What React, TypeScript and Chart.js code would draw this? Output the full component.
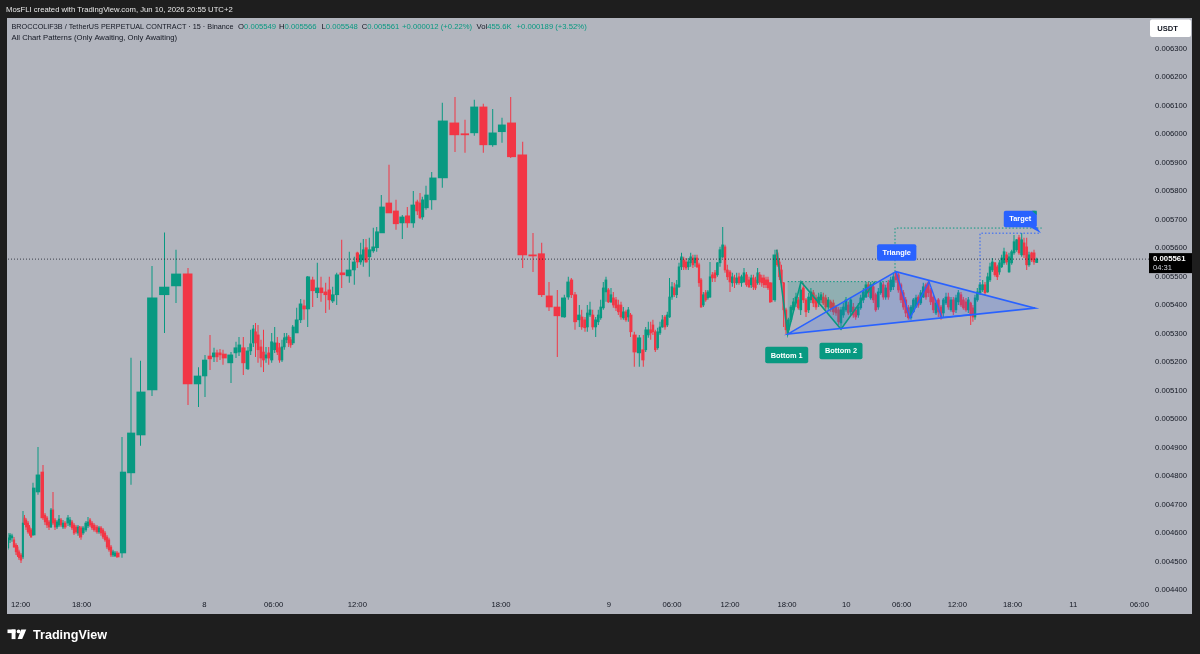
import React, { useEffect, useRef } from "react";
import { Chart, registerables } from "chart.js";

Chart.register(...registerables);

const FONT = "'Liberation Sans', Arial, sans-serif";
const GREEN = "#089981";
const RED = "#f23645";
const BLUE = "#2962ff";
const PANEL = "#b2b5be";
const DARK = "#1e1e1e";
const TEXT = "#131722";

// value range of the price scale
const Y_MIN = 0.0043825;
const Y_MAX = 0.006407;
// bar-slot range of the time scale
const X_MIN = 8;
const X_MAX = 1145;

const priceTicks = [
  0.0044, 0.0045, 0.0046, 0.0047, 0.0048, 0.0049, 0.005, 0.0051, 0.0052, 0.0053,
  0.0054, 0.0055, 0.0056, 0.0057, 0.0058, 0.0059, 0.006, 0.0061, 0.0062, 0.0063,
];
const timeTickSlots = [20.7, 81.7, 204.3, 273.7, 357.3, 501, 609, 672, 730, 787, 846.3, 901.7, 957.3, 1012.7, 1073.3, 1139.3];
const timeTickLabels = ["12:00", "18:00", "8", "06:00", "12:00", "18:00", "9", "06:00", "12:00", "18:00", "10", "06:00", "12:00", "18:00", "11", "06:00"];

const lastPrice = 0.005561;
const countdown = "04:31";

// bar slot (position on the time axis) of each candle
const slots = [
  8, 10, 12, 14, 16, 17.5, 19, 21, 23, 24.5, 26, 28, 29.5, 31, 33, 38, 43, 45, 47, 49, 51, 53, 55, 57, 59, 61, 63, 65, 68, 70,
  72, 74, 76, 78, 79.5, 81, 83, 86, 88, 90, 92, 94, 97, 99, 101, 103, 105, 107, 109, 111, 113, 115, 117,
  122, 131, 140.5, 152, 164.5, 176, 188, 198.5, 205, 210, 214, 217, 220, 223, 231, 236, 239,
  243.3, 248, 250.7, 253.3, 255.5, 258, 261, 263.5, 266, 268.7, 271.7, 274.7, 277.3, 279.5, 282, 284.3, 286.7, 288.7, 290.7, 292.7,
  296.7, 300.7, 304, 307.7, 312.7, 317.3, 321, 325.7, 329.3, 332.7, 336.7, 341.7, 349.3, 354.3, 357.3, 360.7, 363.3, 366, 369.3, 373.3,
  376.7, 381.3, 389, 396, 402.3, 407.3, 413.3, 417.3, 420, 422.3, 426, 431.7, 442.3, 455, 465, 474.3, 483.3, 492.7, 502, 510.7, 522.7, 533,
  541.7, 549, 557.3, 564.3, 568.3, 571.3, 575, 579.3, 581.7, 585, 587.3, 590, 592.7, 595.7, 598.3, 600.7, 603.3, 606, 608.3, 611,
  613.3, 616, 618.3, 621, 623.3, 626, 628.3, 630.5, 634.3, 639.3, 643.3, 645.7, 648.3, 650.7, 652.9, 655.3, 657.7, 660, 662.3, 665,
  667.3, 669.5, 672, 674.3, 676.7, 679, 681.5, 683.7, 686, 688.3, 690.7, 692.9, 695, 697, 699, 701, 703.3, 705.7, 707.9, 710,
  712.3, 715, 717.3, 720, 722.7, 725, 727.3, 730, 732.3, 734.5, 736.7, 739, 741.5, 744, 746.5, 749, 751.2, 753.4, 755.5, 757.6,
  759.7, 761.8, 763.9, 766, 768, 770,
  775, 777.3, 779.4, 781.5, 783.6, 786, 788.3, 791, 793.3, 796, 798.3, 800.7, 803.3, 806, 808.7, 810.9, 813.3, 816, 818.7, 821,
  823.3, 825.7, 828.3, 830.7, 833.3, 836, 838.7, 841, 843.3, 846, 848.3, 850.7, 853.3, 855.7, 858.3, 860.7, 863.3, 866, 868.3, 870.7,
  873.3, 875.7, 878.3, 880.7, 883.3, 885.7, 888.3, 890.7, 893.3, 896, 898.3, 901, 903.3, 905.7, 908.3, 911, 913.3, 916, 918.3, 920.7,
  923.3, 926, 928.3, 930.7, 933.3, 936, 938.3, 941, 943.3, 946, 948.3, 951, 953.3, 956, 958.3, 961, 963.3, 966, 968.3, 970.7,
  972.9, 975, 977.3, 980, 982.7, 985, 987.7, 990, 992.3, 995, 997.3, 999.4, 1001.7, 1004, 1006.7, 1009, 1011.7, 1014, 1016.7, 1019,
  1021.7, 1024, 1026.7, 1029, 1031.7, 1034, 1036.7,
];

// [open, high, low, close]
const ohlc: number[][] = [
  [0.004548, 0.0046, 0.004541, 0.004583], [0.004576, 0.0046, 0.004565, 0.004593], [0.004583, 0.004597, 0.004569, 0.00459],
  [0.004576, 0.004586, 0.004548, 0.004551], [0.004558, 0.004565, 0.004523, 0.004534], [0.004551, 0.004558, 0.004516, 0.004523],
  [0.004534, 0.004541, 0.004505, 0.004513], [0.004523, 0.00453, 0.004495, 0.004505], [0.004516, 0.004677, 0.004509, 0.004635],
  [0.004653, 0.004663, 0.004628, 0.004635], [0.004646, 0.004653, 0.004611, 0.004621], [0.004635, 0.004642, 0.004597, 0.004604],
  [0.004621, 0.004628, 0.00459, 0.0046], [0.004611, 0.004618, 0.004583, 0.004586], [0.004593, 0.004776, 0.00459, 0.004758],
  [0.004744, 0.004902, 0.004734, 0.004804], [0.004814, 0.004839, 0.004646, 0.004653], [0.004663, 0.00467, 0.004628, 0.004639],
  [0.004653, 0.00466, 0.004618, 0.004628], [0.004639, 0.004646, 0.004611, 0.004621], [0.004621, 0.004688, 0.004618, 0.004681],
  [0.004681, 0.004744, 0.004628, 0.004635], [0.004646, 0.004653, 0.004611, 0.004621], [0.004621, 0.004646, 0.004614, 0.004639],
  [0.004628, 0.004663, 0.004621, 0.004649], [0.004646, 0.004653, 0.004621, 0.004628], [0.004621, 0.004646, 0.004614, 0.004635],
  [0.004635, 0.004642, 0.004614, 0.004621], [0.004635, 0.004663, 0.004625, 0.004653], [0.004628, 0.004656, 0.004621, 0.004646],
  [0.004639, 0.004646, 0.004611, 0.004618], [0.004628, 0.004635, 0.004593, 0.0046], [0.004621, 0.004628, 0.004597, 0.004604],
  [0.0046, 0.004628, 0.00459, 0.004621], [0.004618, 0.004625, 0.004583, 0.004593], [0.004618, 0.004625, 0.004576, 0.004586],
  [0.0046, 0.004625, 0.004593, 0.004618], [0.004611, 0.004642, 0.004604, 0.004635], [0.004625, 0.004656, 0.004618, 0.004639],
  [0.004646, 0.004653, 0.004621, 0.004628], [0.004635, 0.004642, 0.004611, 0.004618], [0.004628, 0.004635, 0.004604, 0.004611],
  [0.004621, 0.004628, 0.004597, 0.004604], [0.004604, 0.004625, 0.004597, 0.004618], [0.004618, 0.004625, 0.00459, 0.0046],
  [0.004611, 0.004618, 0.004579, 0.004586], [0.0046, 0.004607, 0.004569, 0.004576], [0.004586, 0.004593, 0.004544, 0.004551],
  [0.004576, 0.004583, 0.004534, 0.004541], [0.004551, 0.004558, 0.004516, 0.004523], [0.004523, 0.004541, 0.004516, 0.004534],
  [0.00452, 0.004537, 0.004516, 0.00453], [0.00453, 0.004537, 0.004513, 0.004516],
  // 7th evening / 8th
  [0.00453, 0.004937, 0.004513, 0.004814], [0.004811, 0.005215, 0.004769, 0.004951], [0.004944, 0.005204, 0.004906, 0.005095],
  [0.005102, 0.005537, 0.005081, 0.005425], [0.005436, 0.005654, 0.005302, 0.005463], [0.005467, 0.005594, 0.005407, 0.005509],
  [0.005509, 0.00553, 0.005049, 0.005123], [0.005123, 0.005182, 0.005042, 0.005151], [0.005151, 0.005225, 0.005077, 0.005207],
  [0.005221, 0.005295, 0.005172, 0.005211], [0.005218, 0.00525, 0.0052, 0.005232], [0.005232, 0.005243, 0.0052, 0.005218],
  [0.005232, 0.005246, 0.005207, 0.005225], [0.005228, 0.005243, 0.00519, 0.005214], [0.005197, 0.005235, 0.005126, 0.005225],
  [0.005232, 0.005271, 0.005214, 0.00525], [0.005235, 0.005288, 0.005221, 0.00526],
  [0.00525, 0.005288, 0.005154, 0.005197], [0.005176, 0.005253, 0.005172, 0.005239], [0.005239, 0.005313, 0.005225, 0.005264],
  [0.005267, 0.00533, 0.005253, 0.005316], [0.005306, 0.005337, 0.005218, 0.005267], [0.005295, 0.00533, 0.005197, 0.005243],
  [0.005253, 0.005278, 0.005182, 0.005214], [0.005235, 0.005313, 0.005165, 0.005207], [0.005214, 0.005253, 0.005197, 0.005225],
  [0.005232, 0.005253, 0.00519, 0.005214], [0.005207, 0.005302, 0.005197, 0.005271], [0.005243, 0.005323, 0.005232, 0.005267],
  [0.005267, 0.005288, 0.005225, 0.005235], [0.00525, 0.005267, 0.005197, 0.005207], [0.005207, 0.005278, 0.0052, 0.005253],
  [0.005253, 0.005302, 0.005243, 0.005285], [0.005278, 0.005302, 0.005267, 0.005288], [0.005288, 0.005295, 0.005253, 0.005267],
  [0.005278, 0.005288, 0.00525, 0.00526], [0.005267, 0.00533, 0.00526, 0.005323], [0.005302, 0.00539, 0.005302, 0.005348],
  [0.005348, 0.005421, 0.005337, 0.005404], [0.005397, 0.005418, 0.005348, 0.005386], [0.005386, 0.005502, 0.005323, 0.005499],
  [0.005488, 0.005499, 0.005393, 0.00545], [0.005443, 0.005548, 0.005425, 0.00546], [0.00546, 0.005499, 0.005411, 0.005443],
  [0.005446, 0.005478, 0.005372, 0.005436], [0.005453, 0.005499, 0.005383, 0.005418], [0.005414, 0.005464, 0.005407, 0.005436],
  [0.005436, 0.005513, 0.0054, 0.005506], [0.005513, 0.005629, 0.00546, 0.005506], [0.005502, 0.005587, 0.005478, 0.005523],
  [0.005523, 0.005569, 0.005471, 0.005551], [0.005583, 0.005587, 0.00553, 0.005551], [0.005551, 0.005618, 0.005541, 0.005576],
  [0.005558, 0.005632, 0.005534, 0.005594], [0.005601, 0.005632, 0.005548, 0.005551], [0.005569, 0.005636, 0.005499, 0.005594],
  [0.00559, 0.005671, 0.005583, 0.005604], [0.005601, 0.005674, 0.005587, 0.005657], [0.005653, 0.005786, 0.005653, 0.005744],
  [0.005758, 0.005892, 0.005723, 0.005723], [0.00573, 0.005769, 0.005664, 0.005685], [0.005688, 0.005716, 0.005632, 0.005709],
  [0.005713, 0.005744, 0.005671, 0.005688], [0.005688, 0.0058, 0.005671, 0.005751], [0.005762, 0.005769, 0.005716, 0.00573],
  [0.005758, 0.005793, 0.005702, 0.005706], [0.005709, 0.00578, 0.005699, 0.005769], [0.005741, 0.005818, 0.005734, 0.005786],
  [0.005769, 0.005867, 0.005734, 0.005846], [0.005846, 0.00611, 0.005811, 0.006046], [0.006039, 0.00613, 0.005937, 0.005997],
  [0.006001, 0.00605, 0.005934, 0.005997], [0.006004, 0.00612, 0.005994, 0.006095], [0.006095, 0.006106, 0.005934, 0.005962],
  [0.005962, 0.006088, 0.005955, 0.006004], [0.006008, 0.006057, 0.005969, 0.006032], [0.006039, 0.00613, 0.005916, 0.00592],
  [0.005927, 0.005973, 0.00553, 0.005576], [0.005576, 0.005653, 0.005516, 0.005572],
  // 9th
  [0.00558, 0.005618, 0.005428, 0.005436], [0.005432, 0.005481, 0.005379, 0.005393], [0.005393, 0.005453, 0.005218, 0.005362],
  [0.005358, 0.005436, 0.005355, 0.005425], [0.005428, 0.005499, 0.005418, 0.005481], [0.005488, 0.005495, 0.005425, 0.005436],
  [0.005436, 0.005446, 0.005313, 0.005341], [0.005348, 0.0054, 0.005323, 0.005365], [0.005358, 0.005383, 0.005313, 0.005323],
  [0.005348, 0.005358, 0.005306, 0.00532], [0.005323, 0.0054, 0.005306, 0.005372], [0.005365, 0.005411, 0.005358, 0.005383],
  [0.005365, 0.005383, 0.005313, 0.005323], [0.005323, 0.005358, 0.005288, 0.005348], [0.005341, 0.005383, 0.00533, 0.005365],
  [0.005355, 0.005418, 0.005348, 0.005393], [0.00539, 0.005481, 0.005383, 0.00546], [0.005446, 0.005499, 0.005411, 0.005488],
  [0.005453, 0.00546, 0.005407, 0.005411], [0.005411, 0.00546, 0.005407, 0.005436], [0.005425, 0.005446, 0.00539, 0.0054],
  [0.005418, 0.005428, 0.005379, 0.00539], [0.0054, 0.005418, 0.005365, 0.005376], [0.0054, 0.005411, 0.005348, 0.005358],
  [0.005355, 0.005393, 0.005348, 0.005376], [0.005376, 0.005383, 0.005341, 0.005348], [0.005358, 0.005393, 0.005341, 0.005383],
  [0.005365, 0.005372, 0.005288, 0.005306], [0.005295, 0.005306, 0.005183, 0.005235], [0.005232, 0.005295, 0.005183, 0.005285],
  [0.005243, 0.005295, 0.005183, 0.005207], [0.005243, 0.005323, 0.005235, 0.005313], [0.005295, 0.005341, 0.005285, 0.005313],
  [0.005313, 0.005341, 0.005278, 0.005302], [0.00533, 0.005348, 0.005295, 0.005306], [0.005306, 0.005313, 0.005235, 0.005243],
  [0.00525, 0.00532, 0.005243, 0.005306], [0.005302, 0.005341, 0.005295, 0.005323], [0.005323, 0.005365, 0.00532, 0.005348],
  [0.005358, 0.005365, 0.005313, 0.005323], [0.00533, 0.005376, 0.005323, 0.005365], [0.005358, 0.005495, 0.005355, 0.005428],
  [0.005428, 0.005481, 0.005418, 0.005464], [0.00546, 0.005478, 0.005428, 0.005436], [0.005436, 0.005488, 0.005425, 0.005471],
  [0.005464, 0.005548, 0.00546, 0.005534], [0.005534, 0.005583, 0.005523, 0.005569], [0.005558, 0.005569, 0.005523, 0.005534],
  [0.005551, 0.005565, 0.005523, 0.00553], [0.005534, 0.005565, 0.005523, 0.005551], [0.005548, 0.005583, 0.005534, 0.005569],
  [0.005565, 0.005576, 0.00553, 0.005541], [0.005548, 0.005576, 0.005534, 0.005565], [0.005565, 0.005576, 0.00553, 0.005534],
  [0.005541, 0.005548, 0.005464, 0.005478], [0.005488, 0.005495, 0.00539, 0.005393], [0.0054, 0.005446, 0.005393, 0.005436],
  [0.005443, 0.005453, 0.005411, 0.005418], [0.005425, 0.005453, 0.005418, 0.005446], [0.005428, 0.005551, 0.005425, 0.005499],
  [0.005506, 0.005516, 0.005481, 0.005495], [0.005513, 0.005523, 0.005481, 0.005495], [0.005506, 0.005551, 0.005499, 0.005548],
  [0.005548, 0.005604, 0.005534, 0.005594], [0.005569, 0.005674, 0.005565, 0.005611], [0.005604, 0.005611, 0.005513, 0.005523],
  [0.005523, 0.005541, 0.005488, 0.005499], [0.005516, 0.005523, 0.005446, 0.005481], [0.005478, 0.005513, 0.005464, 0.005499],
  [0.005495, 0.005506, 0.00546, 0.005478], [0.005478, 0.005513, 0.005471, 0.005495], [0.005499, 0.005513, 0.005471, 0.005478],
  [0.005478, 0.005506, 0.005464, 0.005499], [0.005481, 0.00553, 0.005478, 0.005513], [0.005506, 0.005516, 0.005464, 0.005471],
  [0.005488, 0.005499, 0.00546, 0.005464], [0.005471, 0.005506, 0.00546, 0.005495], [0.005495, 0.005506, 0.005453, 0.005464],
  [0.005488, 0.005499, 0.005453, 0.00546], [0.005478, 0.00553, 0.005471, 0.005513], [0.005506, 0.005516, 0.005471, 0.005481],
  [0.005495, 0.005506, 0.005464, 0.005478], [0.005495, 0.005506, 0.00546, 0.005471], [0.005488, 0.005499, 0.00546, 0.005471],
  [0.005488, 0.005499, 0.005453, 0.00546], [0.005478, 0.005481, 0.005407, 0.005411],
  // 9th evening / 10th
  [0.005418, 0.005594, 0.005411, 0.005576], [0.005583, 0.005594, 0.005534, 0.005541], [0.005551, 0.005565, 0.005488, 0.005499],
  [0.005523, 0.005541, 0.005464, 0.005478], [0.005478, 0.005481, 0.005323, 0.005383], [0.005383, 0.00539, 0.005298, 0.005313],
  [0.005313, 0.005355, 0.005302, 0.005348], [0.005348, 0.0054, 0.005341, 0.005393], [0.005383, 0.005425, 0.005376, 0.005411],
  [0.005407, 0.005443, 0.005393, 0.005428], [0.005418, 0.005428, 0.005383, 0.00539], [0.005383, 0.005481, 0.005365, 0.005453],
  [0.00546, 0.005478, 0.005407, 0.005418], [0.005418, 0.005425, 0.005358, 0.005376], [0.005383, 0.005443, 0.005372, 0.005428],
  [0.005418, 0.00546, 0.005407, 0.005446], [0.005443, 0.005453, 0.005393, 0.005407], [0.005425, 0.005436, 0.005383, 0.005393],
  [0.005407, 0.005443, 0.005393, 0.005428], [0.005418, 0.005446, 0.005407, 0.005436], [0.005428, 0.005443, 0.0054, 0.005407],
  [0.005425, 0.005436, 0.005383, 0.005393], [0.005393, 0.005428, 0.005383, 0.005418], [0.005411, 0.005418, 0.005376, 0.00539],
  [0.005407, 0.005418, 0.005365, 0.005376], [0.005393, 0.0054, 0.005362, 0.005372], [0.005383, 0.005393, 0.00533, 0.005341],
  [0.005337, 0.005393, 0.005315, 0.005383], [0.005365, 0.005407, 0.005355, 0.005393], [0.005383, 0.005428, 0.005376, 0.005418],
  [0.0054, 0.005411, 0.005365, 0.005372], [0.005376, 0.005428, 0.005365, 0.005418], [0.005393, 0.005407, 0.005355, 0.005365],
  [0.005383, 0.005393, 0.005348, 0.005358], [0.005365, 0.005407, 0.005355, 0.005393], [0.00539, 0.005436, 0.005383, 0.005425],
  [0.005418, 0.00546, 0.005407, 0.005446], [0.005428, 0.005481, 0.005425, 0.005471], [0.005471, 0.005481, 0.005428, 0.005443],
  [0.005425, 0.005481, 0.005418, 0.005471], [0.005464, 0.005478, 0.005407, 0.005418], [0.005436, 0.005443, 0.005376, 0.005383],
  [0.005393, 0.00546, 0.005383, 0.005446], [0.005443, 0.005488, 0.005436, 0.005478], [0.005471, 0.005481, 0.005418, 0.005428],
  [0.005428, 0.005471, 0.005418, 0.00546], [0.005478, 0.005488, 0.005418, 0.005428], [0.005453, 0.005499, 0.005446, 0.005488],
  [0.005464, 0.005513, 0.005453, 0.005499], [0.005513, 0.005516, 0.005478, 0.005488], [0.005506, 0.005513, 0.005443, 0.005453],
  [0.005471, 0.005478, 0.005407, 0.005418], [0.005443, 0.005453, 0.005383, 0.005393], [0.005418, 0.005428, 0.005358, 0.005372],
  [0.00539, 0.0054, 0.005348, 0.005355], [0.005355, 0.0054, 0.005348, 0.005393], [0.005376, 0.005425, 0.005372, 0.005418],
  [0.005393, 0.005436, 0.00539, 0.005425], [0.005428, 0.005436, 0.00539, 0.0054], [0.005407, 0.005453, 0.0054, 0.005443],
  [0.005428, 0.005478, 0.005425, 0.005464], [0.005471, 0.005478, 0.005418, 0.005428], [0.005478, 0.005488, 0.005428, 0.005443],
  [0.005453, 0.00546, 0.0054, 0.005411], [0.005428, 0.005436, 0.005372, 0.005383], [0.005372, 0.005418, 0.005365, 0.005407],
  [0.005418, 0.005425, 0.005358, 0.005376], [0.005393, 0.0054, 0.005348, 0.005358], [0.005372, 0.005425, 0.005358, 0.005418],
  [0.005407, 0.005443, 0.0054, 0.005428], [0.005428, 0.005443, 0.005383, 0.005393], [0.005383, 0.005428, 0.005376, 0.005418],
  [0.005418, 0.005428, 0.005365, 0.005376], [0.005383, 0.005436, 0.005372, 0.005425], [0.005411, 0.005453, 0.0054, 0.005443],
  [0.005436, 0.005446, 0.005393, 0.0054], [0.005418, 0.005428, 0.005383, 0.00539], [0.005411, 0.005425, 0.005376, 0.005383],
  [0.005383, 0.005428, 0.005372, 0.005418], [0.005407, 0.005411, 0.00533, 0.005365], [0.00539, 0.0054, 0.005341, 0.005358],
  [0.005358, 0.005436, 0.005348, 0.005425], [0.005418, 0.00546, 0.005411, 0.005446], [0.005443, 0.005481, 0.005436, 0.005471],
  [0.005453, 0.005488, 0.005446, 0.005471], [0.005471, 0.005481, 0.005436, 0.005443], [0.005446, 0.005513, 0.005443, 0.005499],
  [0.005488, 0.005548, 0.005481, 0.005534], [0.005523, 0.005565, 0.005516, 0.005551], [0.005548, 0.005551, 0.005499, 0.005506],
  [0.005534, 0.005541, 0.005488, 0.005499], [0.005516, 0.005558, 0.005506, 0.005548], [0.005534, 0.005576, 0.00553, 0.005565],
  [0.005548, 0.005601, 0.005541, 0.005587], [0.005576, 0.005587, 0.005541, 0.005551], [0.005516, 0.005583, 0.005513, 0.005569],
  [0.005548, 0.005594, 0.005541, 0.005587], [0.005583, 0.005646, 0.005576, 0.005622], [0.005594, 0.005632, 0.005587, 0.005629],
  [0.005636, 0.005646, 0.005576, 0.005583], [0.005576, 0.005653, 0.005569, 0.005629], [0.005618, 0.005636, 0.005565, 0.005576],
  [0.005604, 0.005636, 0.005523, 0.005541], [0.005541, 0.005587, 0.005534, 0.005576], [0.005583, 0.005587, 0.005551, 0.005558],
  [0.005583, 0.005594, 0.005541, 0.005551], [0.005549, 0.005566, 0.005548, 0.005561],
];

// chart pattern drawings: [slot, price]
const doubleBottomPath = [[776.7, 0.005594], [787.7, 0.005298], [801, 0.005482], [841, 0.005315], [875, 0.005482]];
const necklinePrice = 0.005482;
const necklineSlots = [787.7, 895];
const trianglePts = [[787.7, 0.005298], [896, 0.005517], [1035, 0.005389]];
const triangleWaves = [[896, 0.005517], [910, 0.005354], [929, 0.005482], [941.7, 0.005356], [973.3, 0.005367]];
const heightProjection = [[895, 0.005517], [895, 0.00567], [1041.7, 0.00567]];
const targetProjection = [[980, 0.005436], [980, 0.005652], [1040, 0.005652]];

const headerSymbol = "BROCCOLIF3B / TetherUS PERPETUAL CONTRACT · 15 · Binance";
const headerStudies = "All Chart Patterns (Only Awaiting, Only Awaiting)";
const headerValues = [
  ["O", "0.005549", 238], ["H", "0.005566", 279], ["L", "0.005548", 321.5], ["C", "0.005561", 361.7],
  ["", "+0.000012 (+0.22%)", 402], ["Vol", "455.6K", 476.5], ["", "+0.000189 (+3.52%)", 516.6],
];

function tag(ctx: CanvasRenderingContext2D, text: string, cx: number, cy: number, bg: string) {
  ctx.font = `bold 7.4px ${FONT}`;
  const w = ctx.measureText(text).width + 11;
  const h = 16.5;
  ctx.fillStyle = bg;
  ctx.beginPath();
  if ((ctx as any).roundRect) (ctx as any).roundRect(cx - w / 2, cy - h / 2, w, h, 2);
  else ctx.rect(cx - w / 2, cy - h / 2, w, h);
  ctx.fill();
  ctx.fillStyle = "#ffffff";
  ctx.textAlign = "center";
  ctx.textBaseline = "middle";
  ctx.fillText(text, cx, cy + 0.5);
}

const overlayPlugin = {
  id: "tvOverlay",
  beforeDraw(chart: any) {
    const { ctx, width, height } = chart;
    ctx.save();
    ctx.fillStyle = DARK;
    ctx.fillRect(0, 0, width, height);
    ctx.fillStyle = PANEL;
    ctx.fillRect(7, 18, 1185, 596);
    ctx.textBaseline = "middle";
    ctx.textAlign = "left";
    ctx.font = `7.7px ${FONT}`;
    ctx.fillStyle = "#e8e8e8";
    ctx.fillText("MosFLI created with TradingView.com, Jun 10, 2026 20:55 UTC+2", 6, 10, 228);
    ctx.fillStyle = TEXT;
    ctx.fillText(headerSymbol, 11.5, 27, 222);
    for (const [k, v, x] of headerValues as any[]) {
      ctx.fillStyle = TEXT;
      ctx.fillText(k, x, 27);
      const kw = ctx.measureText(k).width;
      ctx.fillStyle = GREEN;
      ctx.fillText(v, x + kw, 27);
    }
    ctx.fillStyle = TEXT;
    ctx.fillText(headerStudies, 11.5, 38, 173);
    // logo
    ctx.fillStyle = "#ffffff";
    ctx.fillRect(7.5, 629.5, 8, 3.6);
    ctx.fillRect(11.6, 629.5, 3.9, 9.6);
    ctx.beginPath();
    ctx.arc(18.6, 631.4, 1.9, 0, Math.PI * 2);
    ctx.fill();
    ctx.beginPath();
    ctx.moveTo(21.2, 629.5);
    ctx.lineTo(26.3, 629.5);
    ctx.lineTo(22.2, 639.1);
    ctx.lineTo(17.6, 639.1);
    ctx.closePath();
    ctx.fill();
    ctx.font = `bold 12.6px ${FONT}`;
    ctx.textBaseline = "alphabetic";
    ctx.fillText("TradingView", 33, 638.6);
    ctx.restore();
  },
  afterDatasetsDraw(chart: any) {
    const { ctx, chartArea } = chart;
    const xs = chart.scales.x;
    const ys = chart.scales.y;
    const P = (p: number[]) => [xs.getPixelForValue(p[0]), ys.getPixelForValue(p[1])];
    ctx.save();
    ctx.beginPath();
    ctx.rect(chartArea.left, chartArea.top, chartArea.right - chartArea.left + 4, chartArea.bottom - chartArea.top);
    ctx.clip();

    // current price line
    const yLast = ys.getPixelForValue(lastPrice);
    ctx.strokeStyle = "rgba(19,23,34,0.75)";
    ctx.lineWidth = 1;
    ctx.setLineDash([1, 2]);
    ctx.beginPath();
    ctx.moveTo(chartArea.left, yLast);
    ctx.lineTo(chartArea.right + 4, yLast);
    ctx.stroke();

    // double bottom shading
    const db = doubleBottomPath.map(P);
    const nL = P([necklineSlots[0], necklinePrice]);
    const nR = P([necklineSlots[1], necklinePrice]);
    const nEnd = db[4];
    ctx.setLineDash([]);
    ctx.fillStyle = "rgba(8,153,129,0.2)";
    ctx.beginPath();
    ctx.moveTo(nL[0], nL[1]);
    ctx.lineTo(nEnd[0], nEnd[1]);
    ctx.lineTo(db[3][0], db[3][1]);
    ctx.lineTo(db[2][0], db[2][1]);
    ctx.lineTo(db[1][0], db[1][1]);
    ctx.closePath();
    ctx.fill();

    // triangle fill
    const tr = trianglePts.map(P);
    ctx.fillStyle = "rgba(41,98,255,0.18)";
    ctx.beginPath();
    ctx.moveTo(tr[0][0], tr[0][1]);
    ctx.lineTo(tr[1][0], tr[1][1]);
    ctx.lineTo(tr[2][0], tr[2][1]);
    ctx.closePath();
    ctx.fill();

    // neckline (dotted)
    ctx.strokeStyle = GREEN;
    ctx.lineWidth = 1;
    ctx.setLineDash([1.5, 2]);
    ctx.beginPath();
    ctx.moveTo(nL[0], nL[1]);
    ctx.lineTo(nR[0], nR[1]);
    ctx.stroke();

    // height projection (green dotted)
    const hp = heightProjection.map(P);
    ctx.beginPath();
    ctx.moveTo(hp[0][0], hp[0][1]);
    ctx.lineTo(hp[1][0], hp[1][1]);
    ctx.lineTo(hp[2][0], hp[2][1]);
    ctx.stroke();

    // target projection (blue dotted)
    const tp = targetProjection.map(P);
    ctx.strokeStyle = BLUE;
    ctx.beginPath();
    ctx.moveTo(tp[0][0], tp[0][1]);
    ctx.lineTo(tp[1][0], tp[1][1]);
    ctx.lineTo(tp[2][0], tp[2][1]);
    ctx.stroke();

    // zigzag of double bottom
    ctx.setLineDash([]);
    ctx.lineWidth = 1.6;
    ctx.strokeStyle = GREEN;
    ctx.beginPath();
    db.forEach((p: number[], i: number) => (i ? ctx.lineTo(p[0], p[1]) : ctx.moveTo(p[0], p[1])));
    ctx.stroke();

    // triangle edges
    ctx.strokeStyle = BLUE;
    ctx.lineWidth = 1.6;
    ctx.beginPath();
    ctx.moveTo(tr[0][0], tr[0][1]);
    ctx.lineTo(tr[1][0], tr[1][1]);
    ctx.lineTo(tr[2][0], tr[2][1]);
    ctx.closePath();
    ctx.stroke();
    const tw = triangleWaves.map(P);
    ctx.lineWidth = 1.4;
    ctx.beginPath();
    tw.forEach((p: number[], i: number) => (i ? ctx.lineTo(p[0], p[1]) : ctx.moveTo(p[0], p[1])));
    ctx.stroke();

    // labels
    tag(ctx, "Bottom 1", db[1][0] - 1, db[1][1] + 21, GREEN);
    tag(ctx, "Bottom 2", db[3][0], db[3][1] + 21.7, GREEN);
    tag(ctx, "Triangle", tr[1][0] + 0.7, tr[1][1] - 19.2, BLUE);
    const tEnd = tp[2];
    const tcx = tEnd[0] - 19.7;
    const tcy = tEnd[1] - 14.3;
    tag(ctx, "Target", tcx, tcy, BLUE);
    ctx.fillStyle = BLUE;
    ctx.beginPath();
    ctx.moveTo(tEnd[0] - 10, tcy + 8);
    ctx.lineTo(tEnd[0] - 3.3, tcy + 8);
    ctx.lineTo(tEnd[0] + 1, tEnd[1]);
    ctx.closePath();
    ctx.fill();
    ctx.fillStyle = GREEN;
    ctx.beginPath();
    ctx.moveTo(tEnd[0] - 8, tcy - 8.25);
    ctx.lineTo(tEnd[0] - 3.3, tcy - 8.25);
    ctx.lineTo(tEnd[0] - 3.3, tcy - 4);
    ctx.closePath();
    ctx.fill();
    ctx.restore();
  },
  afterDraw(chart: any) {
    const { ctx } = chart;
    const xs = chart.scales.x;
    const ys = chart.scales.y;
    ctx.save();
    ctx.font = `7.7px ${FONT}`;
    ctx.fillStyle = TEXT;
    ctx.textBaseline = "middle";
    ctx.textAlign = "center";
    timeTickSlots.forEach((s, i) => ctx.fillText(timeTickLabels[i], xs.getPixelForValue(s), 605));
    priceTicks.forEach((p) => ctx.fillText(p.toFixed(6), 1171, ys.getPixelForValue(p)));

    // last price box
    const yLast = ys.getPixelForValue(lastPrice);
    ctx.fillStyle = "#000000";
    ctx.fillRect(1149, yLast - 6, 43, 20);
    ctx.textAlign = "left";
    ctx.fillStyle = "#ffffff";
    ctx.font = `bold 7.8px ${FONT}`;
    ctx.fillText(lastPrice.toFixed(6), 1153, yLast, 34);
    ctx.font = `7.6px ${FONT}`;
    ctx.fillStyle = "#d1d4dc";
    ctx.fillText(countdown, 1153, yLast + 8.5);

    // currency box
    ctx.fillStyle = "#ffffff";
    ctx.beginPath();
    if (ctx.roundRect) ctx.roundRect(1150, 19.5, 41, 17.5, 2);
    else ctx.rect(1150, 19.5, 41, 17.5);
    ctx.fill();
    ctx.fillStyle = TEXT;
    ctx.font = `bold 7.6px ${FONT}`;
    ctx.textAlign = "center";
    ctx.fillText("USDT", 1167.5, 28.5);
    ctx.restore();
  },
};

export default function App() {
  const ref = useRef<HTMLCanvasElement>(null);
  useEffect(() => {
    document.body.style.margin = "0";
    document.body.style.background = DARK;
    const canvas = ref.current;
    if (!canvas) return;
    const n = Math.min(slots.length, ohlc.length);
    const idx = Array.from({ length: n }, (_, i) => i);
    const colors = idx.map((i) => (ohlc[i][3] >= ohlc[i][0] ? GREEN : RED));
    const wicks = idx.map((i) => ({ x: slots[i], y: [ohlc[i][2], ohlc[i][1]] }));
    const bodies = idx.map((i) => ({ x: slots[i], y: [ohlc[i][0], ohlc[i][3]] }));
    const chart = new Chart(canvas, {
      type: "bar",
      data: {
        datasets: [
          {
            label: "wick",
            data: wicks as any,
            backgroundColor: colors,
            borderWidth: 0,
            barThickness: 1,
            inflateAmount: 0,
            minBarLength: 1,
            stack: "candle",
            order: 2,
          } as any,
          {
            label: "body",
            data: bodies as any,
            backgroundColor: colors,
            borderWidth: 0,
            barThickness: "flex",
            categoryPercentage: 1,
            barPercentage: 0.8,
            minBarLength: 1,
            stack: "candle",
            order: 1,
          } as any,
        ],
      },
      options: {
        responsive: false,
        animation: false,
        events: [],
        layout: { padding: { left: 8, top: 18, right: 55, bottom: 59 } },
        scales: {
          x: { type: "linear", min: X_MIN, max: X_MAX, display: false, offset: false, grid: { display: false } },
          y: { type: "linear", min: Y_MIN, max: Y_MAX, display: false, stacked: false, grid: { display: false } },
        },
        plugins: { legend: { display: false }, tooltip: { enabled: false }, title: { display: false } },
      } as any,
      plugins: [overlayPlugin as any],
    });
    return () => chart.destroy();
  }, []);
  return (
    <div style={{ position: "fixed", left: 0, top: 0, width: 1200, height: 654, background: DARK }}>
      <canvas ref={ref} width={1200} height={654} style={{ display: "block", width: 1200, height: 654 }} />
    </div>
  );
}
